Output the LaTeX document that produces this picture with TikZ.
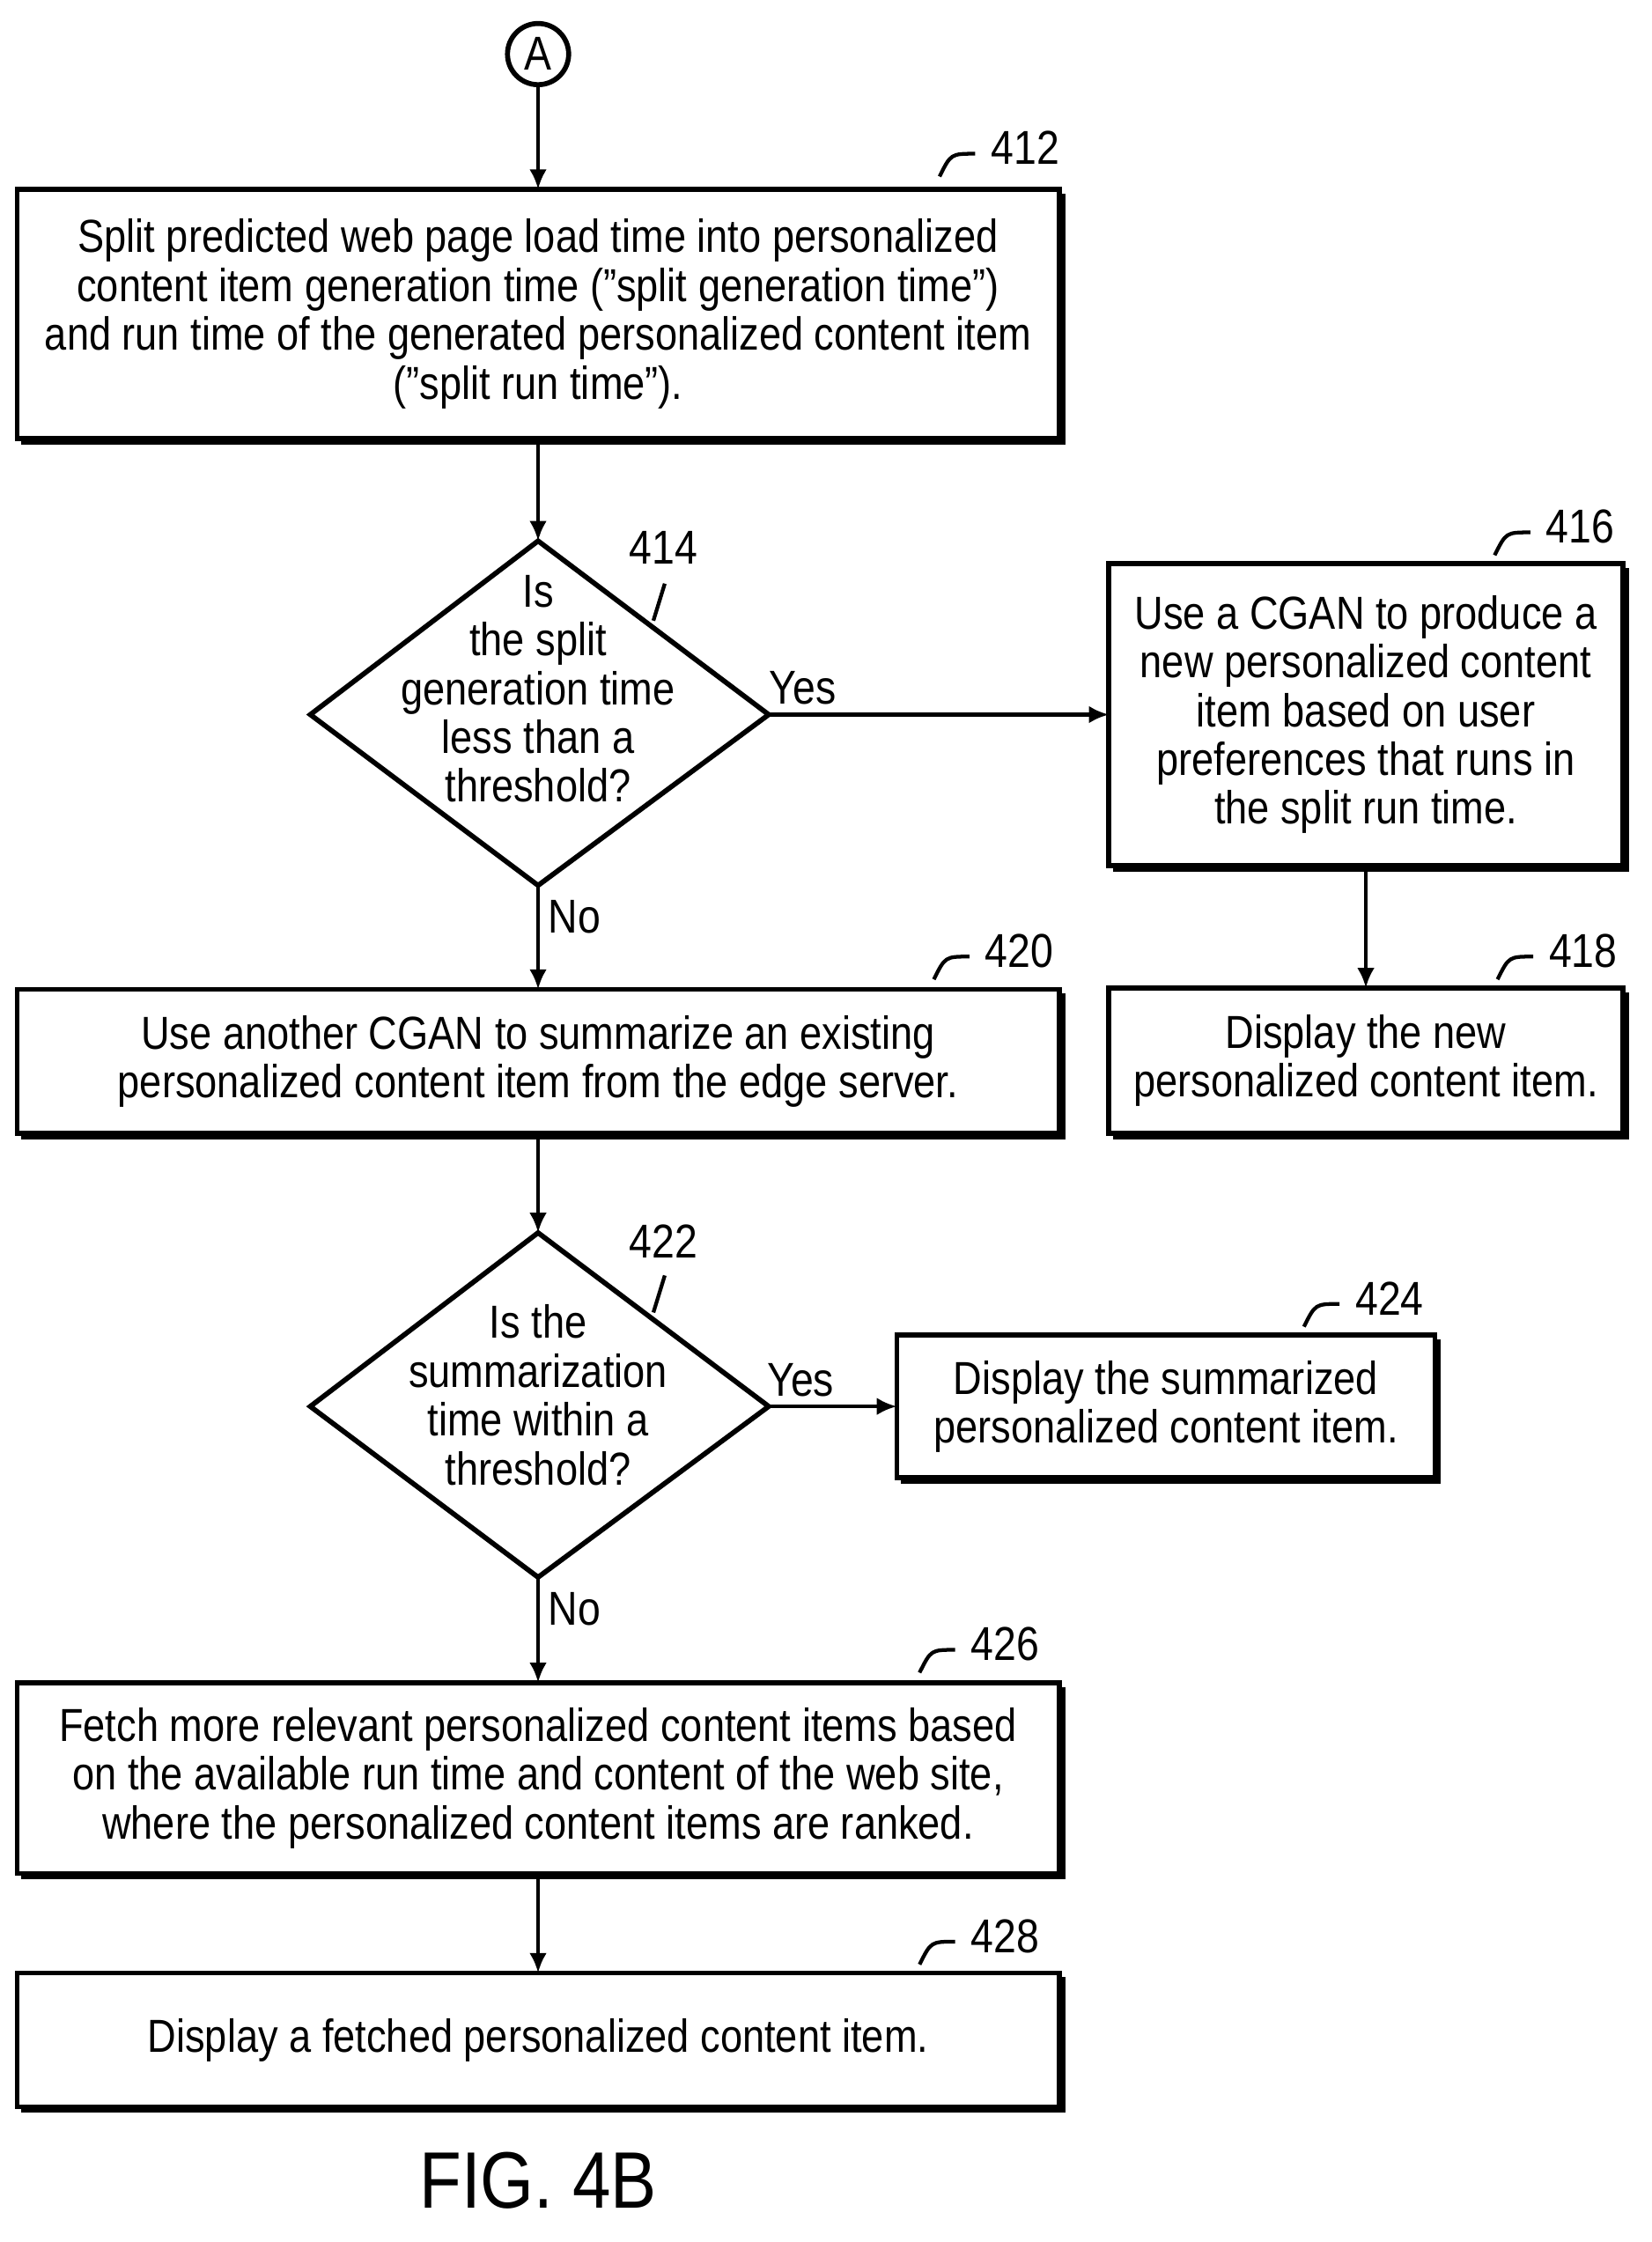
\documentclass[tikz,border=0pt]{standalone}
\usepackage{fontspec}
\usetikzlibrary{arrows.meta}
\setmainfont{Liberation Sans}[FakeStretch=0.86]
\newcommand{\q}{\char34\relax}
\begin{document}
\begin{tikzpicture}[x=0.02cm,y=-0.02cm,
 box/.style={draw,line width=2pt,align=center,font=\fontsize{18.5}{19.5}\selectfont,inner sep=0pt},
 dia/.style={draw,line width=2pt},
 lab/.style={font=\fontsize{19}{22}\selectfont},
 arr/.style={-{Latex[length=8pt,width=7pt]},line width=1.5pt}]
\useasboundingbox (0,0) rectangle (1160,1575);
\newcommand{\bx}[6]{\draw[line width=2pt] (#2,#3) rectangle (#4,#5);
 \draw[line width=2pt] (#2+3,#5+2.5)--(#4+2.5,#5+2.5)--(#4+2.5,#3+3);
 \node[box,draw=none] (#1) at ({(#2+#4)/2},{(#3+#5)/2}) {#6};
 \coordinate (#1n) at ({(#2+#4)/2},#3); \coordinate (#1s) at ({(#2+#4)/2},#5);}
\newcommand{\tick}[3]{\draw[line width=1.5pt] (#1-30,#2+20) .. controls (#1-22,#2+4) .. (#1-5,#2+4);
 \node[lab,anchor=west] (#3) at (#1,#2) {#3};}
\node[draw,circle,line width=2pt,minimum size=0.86cm,inner sep=0pt,lab] (A) at (378,38) {A};
\bx{b412}{12}{133}{744}{308}{Split predicted web page load time into personalized\\content item generation time (\q split generation time\q)\\and run time of the generated personalized content item\\(\q split run time\q).}
\tick{690}{104}{412}
\draw[arr] (A) -- (b412n);
\draw[dia] (378,380) coordinate (d1n) -- (540,502) coordinate (d1e) -- (378,622) coordinate (d1s) -- (218,502) -- cycle;
\node[box,draw=none] (d1) at (378,484) {Is\\the split\\generation time\\less than a\\threshold?};
\node[lab] (l414) at (466,385) {414};
\draw[line width=1.5pt] (459,436) -- (467,410);
\draw[arr] (b412s) -- (d1n);
\bx{b416}{779}{396}{1140}{608}{Use a CGAN to produce a\\new personalized content\\item based on user\\preferences that runs in\\the split run time.}
\tick{1080}{370}{416}
\draw[arr] (d1e) -- node[lab,pos=0.1,above] (y1) {Yes} (779,502);
\bx{b418}{779}{694}{1140}{796}{Display the new\\personalized content item.}
\tick{1082}{668}{418}
\draw[arr] (b416s) -- (b418n);
\bx{b420}{12}{695}{744}{796}{Use another CGAN to summarize an existing\\personalized content item from the edge server.}
\tick{686}{668}{420}
\draw[arr] (d1s) -- node[lab,right,pos=0.3] (n1) {No} (b420n);
\draw[dia] (378,866) coordinate (d2n) -- (540,988) coordinate (d2e) -- (378,1108) coordinate (d2s) -- (218,988) -- cycle;
\node[box,draw=none] (d2) at (378,980) {Is the\\summarization\\time within a\\threshold?};
\node[lab] (l422) at (466,872) {422};
\draw[line width=1.5pt] (459,922) -- (467,896);
\draw[arr] (b420s) -- (d2n);
\bx{b424}{630}{938}{1008}{1038}{Display the summarized\\personalized content item.}
\tick{946}{912}{424}
\draw[arr] (d2e) -- node[lab,pos=0.25,above] (y2) {Yes} (630,988);
\bx{b426}{12}{1182}{744}{1316}{Fetch more relevant personalized content items based\\on the available run time and content of the web site,\\where the personalized content items are ranked.}
\tick{676}{1155}{426}
\draw[arr] (d2s) -- node[lab,right,pos=0.3] (n2) {No} (b426n);
\bx{b428}{12}{1386}{744}{1480}{Display a fetched personalized content item.}
\tick{676}{1360}{428}
\draw[arr] (b426s) -- (b428n);
\node[font=\fontsize{32}{36}\selectfont] (fig) at (378,1532) {FIG. 4B};
\end{tikzpicture}
\end{document}
